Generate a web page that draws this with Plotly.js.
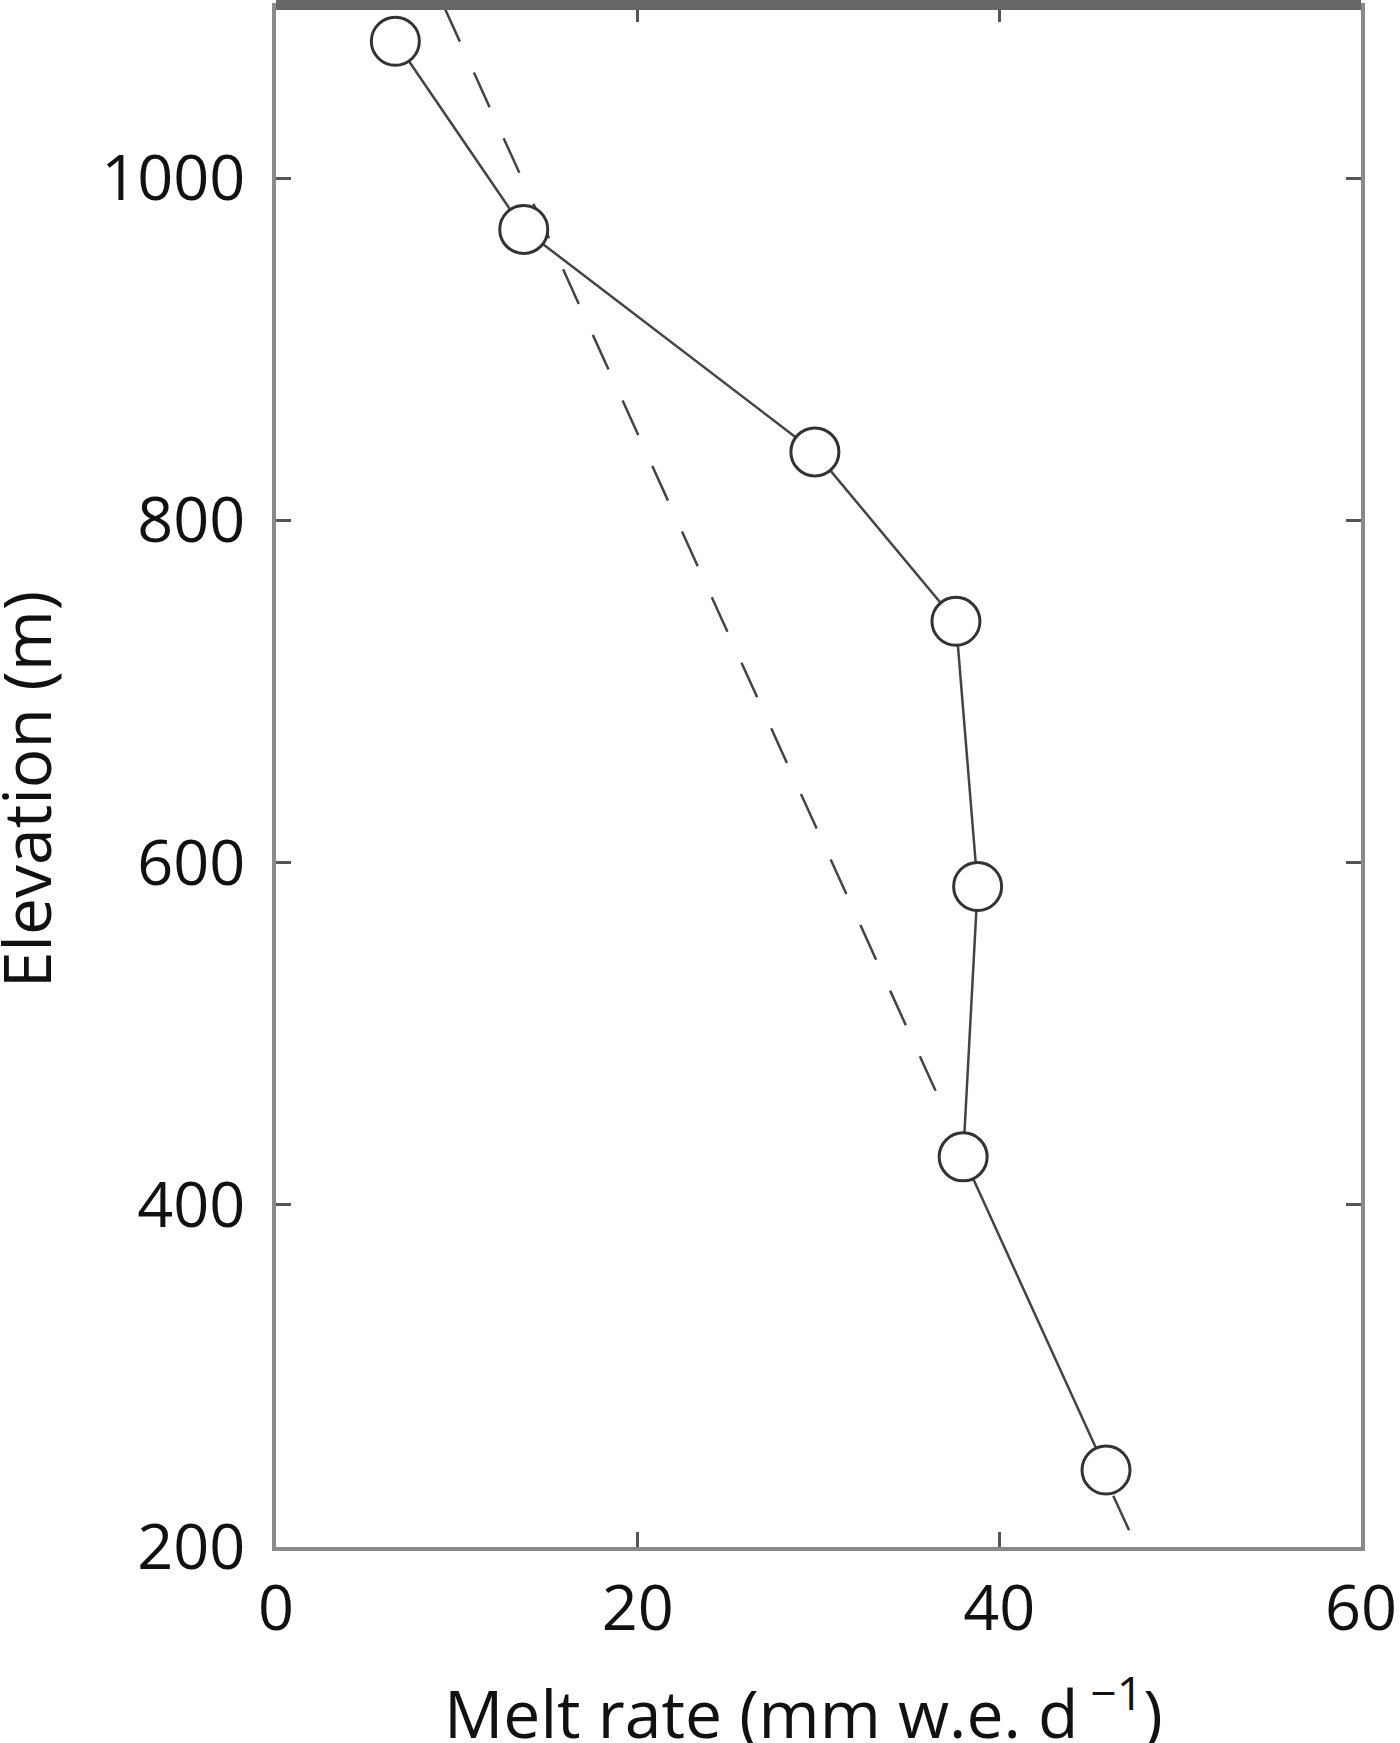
<!DOCTYPE html>
<html>
<head>
<meta charset="utf-8">
<script src="https://cdn.plot.ly/plotly-3.0.1.min.js"></script>
<style>
  html, body { margin: 0; padding: 0; background: #fff; }
  #chart { width: 1400px; height: 1743px; }
</style>
</head>
<body>
<div id="chart"></div>
<script>
// measured melt rate at each stake elevation
var meltRate = [6.6, 13.7, 29.8, 37.6, 38.8, 38.0, 45.9];
var elevation = [1080, 970, 840, 741, 586, 428, 245];

// dashed reference line (drawn in two pieces in the original)
var refMelt = [9.3, 36.8, null, 46.3, 47.6];
var refElev = [1100, 459, null, 230, 200];

var xTicks = [0, 20, 40, 60];
var yTicks = [200, 400, 600, 800, 1000];

var font = "Open Sans, Lato, sans-serif";

var refLine = {
    x: refMelt,
    y: refElev,
    type: "scatter",
    mode: "lines",
    line: { color: "#444", width: 2.5, dash: "38px,34px" },
    connectgaps: false,
    hoverinfo: "skip"
};

var measured = {
    x: meltRate,
    y: elevation,
    type: "scatter",
    mode: "lines+markers",
    line: { color: "#444", width: 2.5 },
    marker: { symbol: "circle", size: 48, color: "#fff", line: { color: "#333", width: 3 } },
    cliponaxis: false
};

var layout = {
    width: 1400,
    height: 1743,
    margin: { l: 276, r: 39, t: 7, b: 196 },
    paper_bgcolor: "#fff",
    plot_bgcolor: "#fff",
    showlegend: false,
    font: { family: font, color: "#111", size: 62 },
    xaxis: {
        range: [0, 60],
        tickvals: xTicks,
        ticktext: xTicks.map(String),
        ticks: "inside",
        ticklen: 15,
        tickwidth: 3,
        tickcolor: "#555",
        showline: true,
        linecolor: "#8a8a8a",
        linewidth: 4,
        mirror: "ticks",
        showgrid: false,
        zeroline: false,
        ticklabelstandoff: 3,
        tickfont: { family: font, size: 63, color: "#111" }
    },
    yaxis: {
        range: [200, 1100],
        tickvals: yTicks,
        ticktext: yTicks.map(String),
        ticks: "inside",
        ticklen: 15,
        tickwidth: 3,
        tickcolor: "#555",
        showline: true,
        linecolor: "#8a8a8a",
        linewidth: 4,
        mirror: "ticks",
        showgrid: false,
        zeroline: false,
        ticklabelstandoff: 14,
        tickfont: { family: font, size: 63, color: "#111" }
    },
    // axis titles as annotations so they sit where the original has them
    annotations: [
        { text: "Melt rate (mm w.e. d<sup> \u22121</sup>)", xref: "paper", yref: "paper",
          x: 0.486, y: -0.105, xanchor: "center", yanchor: "middle", showarrow: false,
          font: { family: font, size: 66, color: "#111" } },
        { text: "Elevation (m)", xref: "paper", yref: "paper", textangle: -90,
          x: -0.2313, y: 0.492, xanchor: "center", yanchor: "middle", showarrow: false,
          font: { family: font, size: 66, color: "#111" } }
    ],
    shapes: [
        // thick dark band along the top edge (bottom of the panel above)
        { type: "rect", xref: "paper", yref: "paper", x0: 0, x1: 1, y0: 1 - 3 / 1540, y1: 1 + 7 / 1540,
          fillcolor: "#666", line: { width: 0 } }
    ]
};

Plotly.newPlot("chart", [refLine, measured], layout, { staticPlot: true, displayModeBar: false });
</script>
</body>
</html>
